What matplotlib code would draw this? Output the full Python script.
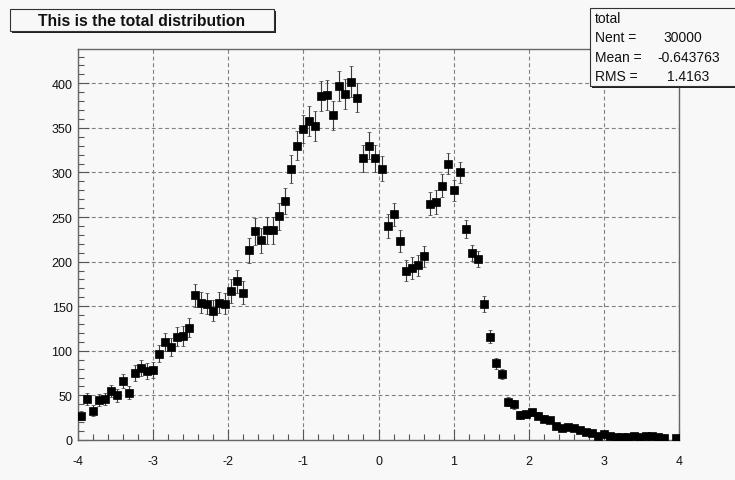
import numpy as np
import matplotlib
matplotlib.use("Agg")
import matplotlib.pyplot as plt
from matplotlib.patches import Rectangle
from matplotlib.ticker import MultipleLocator

plt.rcParams['font.family'] = ['Liberation Sans', 'DejaVu Sans']

# Histogram binning
x_low, x_high, n_bins = -4.0, 4.0, 100

# Bin contents (weighted sum of main + two signals)
counts = [
    27, 46, 33, 45, 46, 55, 50, 66, 53, 75,
    81, 77, 78.5, 97, 109.5, 104, 116, 116.5, 126, 162.5,
    154, 153, 145, 154, 153, 167, 178, 165, 213, 234,
    224, 235, 235, 251, 268, 304, 330, 349, 358, 352,
    386, 387, 364, 397, 388, 402, 384, 316, 330, 316,
    304, 240, 253, 223, 190, 193, 196, 206, 265, 267,
    285, 310, 280, 300, 237, 210, 203, 152, 116, 86,
    74, 43, 40, 28, 29, 31, 27, 24, 22, 16,
    14, 15, 14, 11, 9, 7.5, 5, 7, 4, 3,
    3, 3, 4, 3, 4, 4, 3.5, 2, 0, 2,
]

# Bin errors
errors = [
    5, 7, 6, 7, 7, 7, 7, 8, 7, 9,
    9, 9, 9, 10, 10, 10, 11, 11, 11, 13,
    12, 12, 12, 12, 12, 13, 13, 13, 14, 15,
    14, 15, 15, 15, 15, 16, 16, 16, 17, 17,
    17, 17, 16, 17, 17, 17, 16, 15, 15, 15,
    14, 13, 13, 12, 12, 12, 12, 12, 13, 13,
    13, 12, 12, 12, 10, 9, 9, 9, 7, 6,
    6, 5, 5, 4, 4, 4, 4, 4, 3, 3,
    3, 3, 3, 3, 2.5, 2, 2, 2, 2, 1.5,
    1.5, 1.5, 1.5, 1.5, 1.5, 1.5, 1.5, 1.5, 0, 1.5,
]

title = "This is the total distribution"
stats_name = "total"
stats_labels = ["Nent =", "Mean =", "RMS ="]
stats_values = ["30000", "-0.643763", "1.4163"]

x_ticks = [-4, -3, -2, -1, 0, 1, 2, 3, 4]
y_ticks = [0, 50, 100, 150, 200, 250, 300, 350, 400]

W, H = 735, 481
bg = '#f8f8f8'
fig = plt.figure(figsize=(W / 100, H / 100), dpi=100, facecolor=bg)


def fx(px):
    return px / W


def fy(py):
    return 1 - py / H


ax = fig.add_axes([fx(78), fy(441), (679 - 78) / W, (441 - 50) / H])
ax.set_facecolor(bg)

edges = np.linspace(x_low, x_high, n_bins + 1)
centers = 0.5 * (edges[:-1] + edges[1:])
counts_a = np.asarray(counts, dtype=float)
errors_a = np.asarray(errors, dtype=float)
filled = counts_a > 0

ax.errorbar(centers[filled], counts_a[filled], yerr=errors_a[filled],
            fmt='s', ms=5.6, mfc='black', mec='black', mew=0.5,
            ecolor='#3a3a3a', elinewidth=0.8, capsize=1.6, capthick=0.8,
            zorder=3)

ax.set_xlim(x_low, x_high)
ax.set_ylim(0, 438.5)
ax.set_xticks(x_ticks)
ax.set_yticks(y_ticks)
ax.set_xticklabels([str(t) for t in x_ticks])
ax.set_yticklabels([str(t) for t in y_ticks])
ax.xaxis.set_minor_locator(MultipleLocator(0.2))
ax.yaxis.set_minor_locator(MultipleLocator(10))

ax.tick_params(which='both', direction='in', color='#555555', width=0.8,
               top=False, right=False, labelcolor='#111111', labelsize=9)
ax.tick_params(which='major', length=8)
ax.tick_params(which='minor', length=4.5)
ax.tick_params(axis='x', which='major', pad=11)
ax.tick_params(axis='y', which='major', pad=4)

for s in ax.spines.values():
    s.set_color('#666666')
    s.set_linewidth(1.0)

ax.grid(True, which='major', linestyle=(0, (3.5, 2.5)), color='#808080',
        linewidth=0.8, zorder=1)
ax.set_axisbelow(True)

# Title box with drop shadow
def boxed(x0, y0, x1, y1, shadow=2):
    fig.patches.append(Rectangle((fx(x0 + shadow), fy(y1 + shadow)),
                                 (x1 - x0) / W, (y1 - y0) / H,
                                 transform=fig.transFigure,
                                 facecolor='#222222', edgecolor='none',
                                 zorder=5))
    fig.patches.append(Rectangle((fx(x0), fy(y1)),
                                 (x1 - x0) / W, (y1 - y0) / H,
                                 transform=fig.transFigure,
                                 facecolor=bg, edgecolor='#333333',
                                 linewidth=0.8, zorder=6))


boxed(10, 10, 274, 32)
fig.text(fx(142), fy(21.5), title, ha='center', va='center',
         fontsize=11.3, fontweight='bold', color='#111111', zorder=7)

# Statistics box
boxed(590, 9, 745, 87)
fig.text(fx(595), fy(19), stats_name, ha='left', va='center',
         fontsize=10, color='#111111', zorder=7)
value_x = [663, 657, 667]
row_y = [38, 58, 77]
for lab, val, vx, ry in zip(stats_labels, stats_values, value_x, row_y):
    fig.text(fx(595), fy(ry), lab, ha='left', va='center',
             fontsize=10, color='#111111', zorder=7)
    fig.text(fx(vx), fy(ry), val, ha='left', va='center',
             fontsize=10, color='#111111', zorder=7)

fig.savefig('out.png', dpi=100, facecolor=bg)
